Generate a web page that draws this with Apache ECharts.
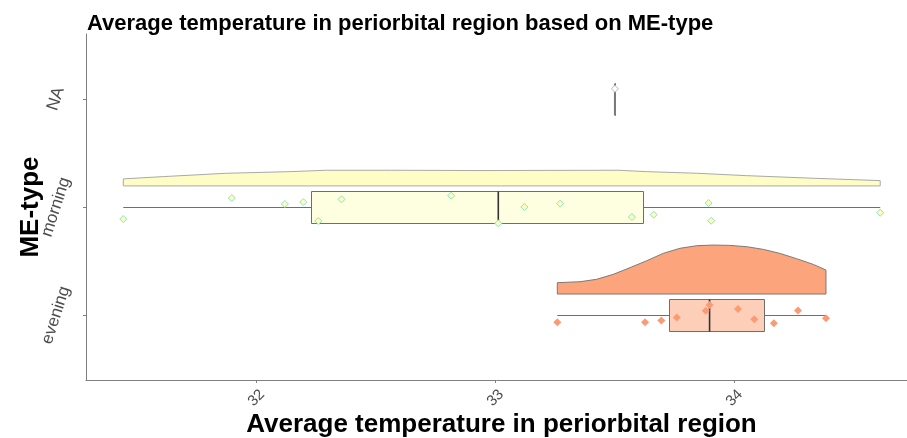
<!DOCTYPE html>
<html><head><meta charset="utf-8">
<script src="https://cdn.jsdelivr.net/npm/echarts@6/dist/echarts.min.js"></script>
<style>html,body{margin:0;padding:0;background:#fff}#c{width:907px;height:438px}</style>
</head><body><div id="c"></div>
<script>
// ---- data ----
const categories = ['evening', 'morning', 'NA'];
const categoryPos = [1, 2, 3];
const xTicks = [32, 33, 34];

const eveningTemps  = [33.259, 33.626, 33.694, 33.759, 33.880, 33.896, 34.015, 34.083, 34.165, 34.266, 34.383];
const eveningJitter = [-0.065, -0.065, -0.050, -0.022, 0.040, 0.093, 0.056, -0.037, -0.074, 0.043, -0.028];

const morningTemps  = [31.443, 31.897, 32.119, 32.196, 32.259, 32.356, 32.815, 33.012, 33.121, 33.271, 33.571, 33.662, 33.892, 33.903, 34.610];
const morningJitter = [-0.111, 0.083, 0.028, 0.046, -0.130, 0.071, 0.105, -0.151, 0.000, 0.031, -0.093, -0.071, 0.037, -0.127, -0.053];

const naTemps  = [33.5];
const naJitter = [0.093];

const eveningDensityX = [33.259, 33.354, 33.423, 33.493, 33.563, 33.633, 33.702, 33.772, 33.842, 33.911, 33.981, 34.051, 34.121, 34.190, 34.260, 34.330, 34.383];
const eveningDensityH = [0.105, 0.114, 0.136, 0.182, 0.244, 0.308, 0.376, 0.423, 0.447, 0.453, 0.450, 0.438, 0.413, 0.376, 0.327, 0.274, 0.222];

const morningDensityX = [31.443, 31.610, 31.875, 32.140, 32.294, 32.566, 32.935, 33.514, 33.633, 33.842, 34.051, 34.330, 34.610];
const morningDensityH = [0.065, 0.086, 0.117, 0.132, 0.145, 0.145, 0.142, 0.145, 0.132, 0.117, 0.095, 0.071, 0.049];

// ---- helpers ----
const FONT = "'Liberation Sans', Arial, sans-serif";
const BOX_HALF = 0.15;
const DENS_OFFSET = 0.195;

function quantile(sorted, p) {
  const h = (sorted.length - 1) * p;
  const lo = Math.floor(h), hi = Math.ceil(h);
  return sorted[lo] + (sorted[hi] - sorted[lo]) * (h - lo);
}
function stats(vals) {
  const s = vals.slice().sort((a, b) => a - b);
  const q1 = quantile(s, 0.25), med = quantile(s, 0.5), q3 = quantile(s, 0.75);
  const iqr = q3 - q1;
  const lo = s.find(v => v >= q1 - 1.5 * iqr);
  const hi = s.slice().reverse().find(v => v <= q3 + 1.5 * iqr);
  return { lo, q1, med, q3, hi };
}
const crisp = v => Math.round(v) + 0.5;

function boxSeries(vals, pos, fill, stroke, medColor, medWidth) {
  const s = stats(vals);
  return {
    type: 'custom', z: 3,
    data: [[s.lo, s.q1, s.med, s.q3, s.hi, pos]],
    encode: { x: [0, 4], y: 5 },
    renderItem(params, api) {
      const y = api.value(5);
      const yc = crisp(api.coord([0, y])[1]);
      const yt = crisp(api.coord([0, y + BOX_HALF])[1]);
      const yb = crisp(api.coord([0, y - BOX_HALF])[1]);
      const xlo = api.coord([api.value(0), y])[0];
      const xq1 = crisp(api.coord([api.value(1), y])[0]);
      const xmd = api.coord([api.value(2), y])[0];
      const xq3 = crisp(api.coord([api.value(3), y])[0]);
      const xhi = api.coord([api.value(4), y])[0];
      const ls = { stroke, lineWidth: 1 };
      return { type: 'group', children: [
        { type: 'line', shape: { x1: xlo, y1: yc, x2: xq1, y2: yc }, style: ls },
        { type: 'line', shape: { x1: xq3, y1: yc, x2: xhi, y2: yc }, style: ls },
        { type: 'rect', shape: { x: xq1, y: yt, width: xq3 - xq1, height: yb - yt }, style: { fill, stroke, lineWidth: 1 } },
        { type: 'line', shape: { x1: xmd, y1: yt, x2: xmd, y2: yb }, style: { stroke: medColor, lineWidth: medWidth } }
      ] };
    }
  };
}

function densitySeries(xs, hs, pos, fill, stroke) {
  const base = pos + DENS_OFFSET;
  return {
    type: 'custom', z: 2,
    data: xs.map((x, i) => [x, base + hs[i]]),
    encode: { x: 0, y: 1 },
    renderItem(params, api) {
      if (params.dataIndex !== 0) return null;
      const pts = [api.coord([xs[0], base])];
      xs.forEach((x, i) => pts.push(api.coord([x, base + hs[i]])));
      pts.push(api.coord([xs[xs.length - 1], base]));
      return { type: 'polygon', shape: { points: pts }, style: { fill, stroke, lineWidth: 1 } };
    }
  };
}

function pointSeries(vals, jit, pos, size, fill, stroke) {
  return {
    type: 'scatter', z: 5,
    symbol: 'diamond', symbolSize: size,
    data: vals.map((v, i) => [v, pos + jit[i]]),
    itemStyle: { color: fill, borderColor: stroke, borderWidth: stroke ? 1 : 0, opacity: 1 },
    emphasis: { disabled: true }
  };
}

const chart = echarts.init(document.getElementById('c'), null, { renderer: 'canvas' });
chart.setOption({
  animation: false,
  backgroundColor: '#ffffff',
  title: {
    text: 'Average temperature in periorbital region based on ME-type',
    left: 82, top: 8,
    textStyle: { fontFamily: FONT, fontSize: 22, fontWeight: 'bold', color: '#000' }
  },
  grid: { left: 86, right: 0, top: 34, bottom: 58, containLabel: false, outerBoundsMode: 'none' },
  xAxis: {
    type: 'value', min: 31.287, max: 34.722,
    splitLine: { show: false },
    axisLine: { show: true, lineStyle: { color: '#7f7f7f', width: 1 } },
    axisTick: { show: true, length: 3, customValues: xTicks, lineStyle: { color: '#7f7f7f' } },
    axisLabel: { customValues: xTicks, rotate: 45, align: 'center', verticalAlign: 'middle',
      fontSize: 15, color: '#4d4d4d', fontFamily: FONT, margin: 18 },
    name: 'Average temperature in periorbital region',
    nameLocation: 'middle', nameGap: 32, nameMoveOverlap: false,
    nameTextStyle: { fontFamily: FONT, fontSize: 26, fontWeight: 'bold', color: '#000', padding: [0, 0, 0, 10] }
  },
  yAxis: {
    type: 'value', min: 0.4, max: 3.6,
    splitLine: { show: false },
    axisLine: { show: true, lineStyle: { color: '#7f7f7f', width: 1 } },
    axisTick: { show: true, length: 3, customValues: categoryPos, lineStyle: { color: '#7f7f7f' } },
    axisLabel: {
      customValues: categoryPos, rotate: 72, align: 'center', verticalAlign: 'middle',
      fontSize: 17, color: '#4d4d4d', fontFamily: FONT, margin: 30,
      formatter: v => categories[categoryPos.indexOf(Math.round(v))]
    },
    name: 'ME-type', nameLocation: 'middle', nameRotate: 90, nameGap: 42, nameMoveOverlap: false,
    nameTextStyle: { fontFamily: FONT, fontSize: 26, fontWeight: 'bold', color: '#000' }
  },
  series: [
    densitySeries(morningDensityX, morningDensityH, 2, '#FFFDC6', '#A9A9A9'),
    densitySeries(eveningDensityX, eveningDensityH, 1, '#FCA47B', '#7a7a7a'),
    boxSeries(morningTemps, 2, '#FEFEE0', '#6e6e6e', '#333333', 1.6),
    boxSeries(eveningTemps, 1, '#FDCFB9', '#6e6e6e', '#333333', 1.6),
    boxSeries(naTemps, 3, '#E0E0E0', '#7a7a7a', '#7a7a7a', 2),
    pointSeries(morningTemps, morningJitter, 2, 7, '#FFFFB3', '#8FE0CF'),
    pointSeries(eveningTemps, eveningJitter, 1, 8, '#FC9A74', null),
    pointSeries(naTemps, naJitter, 3, 7, '#ffffff', '#BBBBBB')
  ]
});
</script></body></html>
